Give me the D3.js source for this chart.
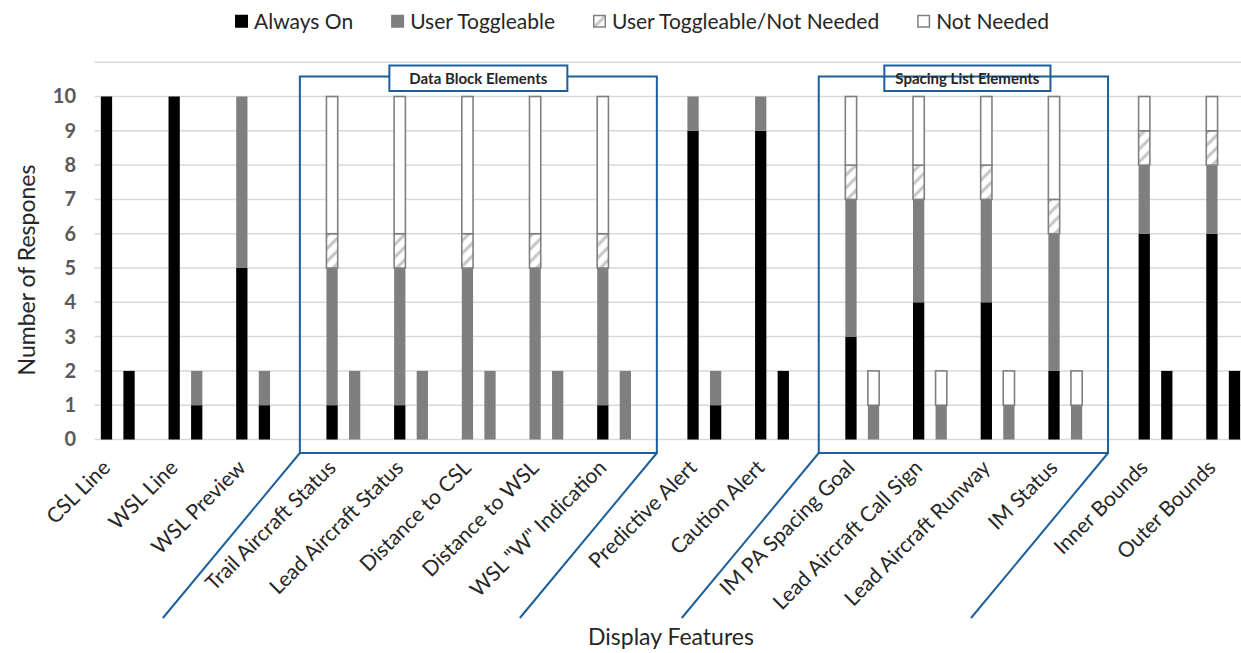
<!DOCTYPE html>
<html>
<head>
<meta charset="utf-8">
<script src="https://cdn.jsdelivr.net/npm/d3@7"></script>
<style>
  html, body { margin: 0; padding: 0; background: #ffffff; }
  svg { display: block; font-family: Lato, "Open Sans", sans-serif; }
</style>
</head>
<body>
<svg id="chart" width="1241" height="653"></svg>
<script>
// ---------------- data ----------------
const features = ["CSL Line", "WSL Line", "WSL Preview", "Trail Aircraft Status", "Lead Aircraft Status",
  "Distance to CSL", "Distance to WSL", "WSL \"W\" Indication", "Predictive Alert", "Caution Alert",
  "IM PA Spacing Goal", "Lead Aircraft Call Sign", "Lead Aircraft Runway", "IM Status", "Inner Bounds", "Outer Bounds"];
const featureGroup = [0, 0, 0, 1, 1, 1, 1, 1, 2, 2, 3, 3, 3, 3, 4, 4];

const seriesNames = ["Always On", "User Toggleable", "User Toggleable/Not Needed", "Not Needed"];

// first (tall) bar of each feature
const alwaysOnA       = [10, 10, 5, 1, 1, 0, 0, 1, 9, 9, 3, 4, 4, 2, 6, 6];
const userToggleA     = [0, 0, 5, 4, 4, 5, 5, 4, 1, 1, 4, 3, 3, 4, 2, 2];
const toggleNotNeedA  = [0, 0, 0, 1, 1, 1, 1, 1, 0, 0, 1, 1, 1, 1, 1, 1];
const notNeededA      = [0, 0, 0, 4, 4, 4, 4, 4, 0, 0, 2, 2, 2, 3, 1, 1];
// second (short) bar of each feature
const alwaysOnB       = [2, 1, 1, 0, 0, 0, 0, 0, 1, 2, 0, 0, 0, 0, 2, 2];
const userToggleB     = [0, 1, 1, 2, 2, 2, 2, 2, 1, 0, 1, 1, 1, 1, 0, 0];
const toggleNotNeedB  = [0, 0, 0, 0, 0, 0, 0, 0, 0, 0, 0, 0, 0, 0, 0, 0];
const notNeededB      = [0, 0, 0, 0, 0, 0, 0, 0, 0, 0, 1, 1, 1, 1, 0, 0];

const yTickValues = [0, 1, 2, 3, 4, 5, 6, 7, 8, 9, 10];
const gridValues  = [0, 1, 2, 3, 4, 5, 6, 7, 8, 9, 10, 11];

const annotationLabels = ["Data Block Elements", "Spacing List Elements"];
const annotationFirst  = [3, 10];
const annotationLast   = [7, 13];

const yTitle = "Number of Respones";
const xTitle = "Display Features";

// ---------------- layout ----------------
const svg = d3.select("#chart");
const W = 1241, H = 653;
const C = {
  black: "#000000", gray: "#7f7f7f", hatch: "#c4c4c4", border: "#808080",
  grid: "#d9d9d9", blue: "#1c5f9c", text: "#262626", tick: "#595959"
};

// slots: bar A, bar B, spacer per feature, plus an extra spacer between groups
const slots = [];
features.forEach((f, i) => {
  if (i > 0 && featureGroup[i] !== featureGroup[i - 1]) slots.push("gap-" + i);
  slots.push(i + "-A", i + "-B", i + "-s");
});
const step = 22.56;
const x = d3.scaleBand().domain(slots)
  .range([95.2, 95.2 + slots.length * step])
  .paddingInner(0.5).paddingOuter(0.25);

const y = d3.scaleLinear().domain([0, 11]).range([439.5, 439.5 - 11 * 34.3]);

const keys = ["a", "t", "tn", "n"];
const rows = [];
features.forEach((f, i) => {
  rows.push({ slot: i + "-A", a: alwaysOnA[i], t: userToggleA[i], tn: toggleNotNeedA[i], n: notNeededA[i] });
  rows.push({ slot: i + "-B", a: alwaysOnB[i], t: userToggleB[i], tn: toggleNotNeedB[i], n: notNeededB[i] });
});
const stacked = d3.stack().keys(keys)(rows);

// hatch pattern
const defs = svg.append("defs");
const pat = defs.append("pattern").attr("id", "hatch")
  .attr("patternUnits", "userSpaceOnUse").attr("width", 9).attr("height", 9)
  .attr("patternTransform", "rotate(45)");
pat.append("rect").attr("width", 9).attr("height", 9).attr("fill", "#ffffff");
pat.append("line").attr("x1", 2).attr("y1", 0).attr("x2", 2).attr("y2", 9)
  .attr("stroke", C.hatch).attr("stroke-width", 3);

const fills = ["#000000", C.gray, "url(#hatch)", "#ffffff"];

// gridlines
svg.append("g").selectAll("line").data(gridValues).join("line")
  .attr("x1", 94.5).attr("x2", W)
  .attr("y1", d => y(d)).attr("y2", d => y(d))
  .attr("stroke", C.grid).attr("stroke-width", 1.5);

// bars
const barG = svg.append("g");
stacked.forEach((layer, li) => {
  barG.append("g").selectAll("rect")
    .data(layer.filter(d => d[1] - d[0] > 0)).join("rect")
    .attr("x", d => x(d.data.slot))
    .attr("width", x.bandwidth())
    .attr("y", d => y(d[1]))
    .attr("height", d => y(d[0]) - y(d[1]))
    .attr("fill", fills[li])
    .attr("stroke", li >= 2 ? C.border : "none")
    .attr("stroke-width", li >= 2 ? 1.6 : 0);
});

// y axis labels
const yAxis = d3.axisLeft(y).tickValues(yTickValues).tickSize(0).tickPadding(18).tickFormat(d3.format("d"));
const yg = svg.append("g").attr("transform", "translate(94,0)").call(yAxis);
yg.select(".domain").remove();
yg.selectAll("text").attr("font-family", "Lato, sans-serif").attr("font-size", 20)
  .attr("font-weight", "bold").attr("fill", C.tick);

// x category labels
const xg = svg.append("g");
features.forEach((f, i) => {
  const cx = x(i + "-A") + x.bandwidth() / 2 + 5;
  xg.append("text")
    .attr("transform", `translate(${cx},469) rotate(-45)`)
    .attr("text-anchor", "end")
    .attr("font-size", 21).attr("fill", C.text)
    .text(f);
});

// axis titles
svg.append("text").attr("transform", "translate(35,270) rotate(-90)")
  .attr("text-anchor", "middle").attr("font-size", 23).attr("fill", C.text).text(yTitle);
svg.append("text").attr("x", 671).attr("y", 645)
  .attr("text-anchor", "middle").attr("font-size", 23).attr("fill", C.text).text(xTitle);

// annotation boxes
const annG = svg.append("g");
const boxTop = 76.5, boxBottom = 453, diagDx = 137, diagBottom = 618;
annotationLabels.forEach((lab, k) => {
  const f = annotationFirst[k], l = annotationLast[k];
  const left = x("gap-" + f) - 4;
  const right = x("gap-" + (l + 1)) - 8;
  const g = annG.append("g").attr("fill", "none").attr("stroke", C.blue).attr("stroke-width", 2);
  g.append("rect").attr("x", left).attr("y", boxTop).attr("width", right - left).attr("height", boxBottom - boxTop);
  g.append("line").attr("x1", left).attr("y1", boxBottom).attr("x2", left - diagDx).attr("y2", diagBottom);
  g.append("line").attr("x1", right).attr("y1", boxBottom).attr("x2", right - diagDx).attr("y2", diagBottom);
  const cx = (left + right) / 2 + (k === 1 ? 4 : 0);
  const t = annG.append("text").attr("x", cx).attr("y", 84)
    .attr("text-anchor", "middle").attr("font-size", 15).attr("font-weight", "bold")
    .attr("fill", C.text).text(lab);
  const tw = t.node().getComputedTextLength();
  const pad = k === 0 ? 20 : 11;
  annG.insert("rect", "text").attr("x", cx - tw / 2 - pad).attr("y", 65.5)
    .attr("width", tw + 2 * pad).attr("height", 25.5)
    .attr("fill", "#ffffff").attr("stroke", C.blue).attr("stroke-width", 2);
});

// legend
const legG = svg.append("g");
let lx = 0;
seriesNames.forEach((s, i) => {
  const g = legG.append("g").attr("transform", `translate(${lx},0)`);
  g.append("rect").attr("x", 0.75).attr("y", 15.5).attr("width", 11.5).attr("height", 11.5)
    .attr("fill", fills[i])
    .attr("stroke", i >= 2 ? C.border : fills[i]).attr("stroke-width", 1.5);
  const t = g.append("text").attr("x", 19).attr("y", 28.5).attr("font-size", 21)
    .attr("fill", C.text).text(s);
  lx += 19 + t.node().getComputedTextLength() + 38;
});
const legW = lx - 38;
legG.attr("transform", `translate(${642 - legW / 2},0)`);
</script>
</body>
</html>
